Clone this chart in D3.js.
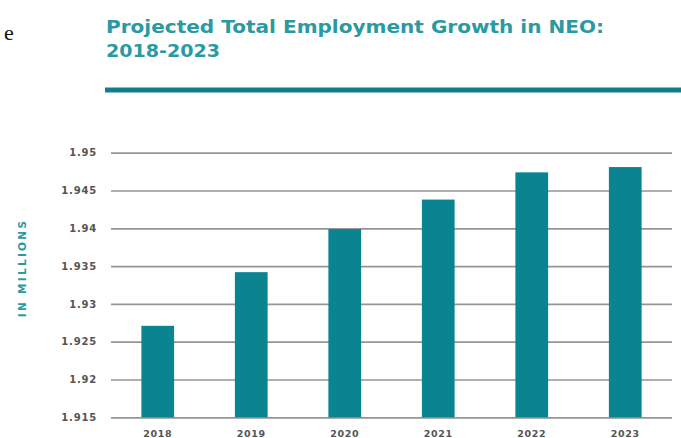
<!DOCTYPE html>
<html>
<head>
<meta charset="utf-8">
<script src="https://cdn.jsdelivr.net/npm/d3@7"></script>
<style>
  html, body { margin: 0; padding: 0; background: #fff; }
  svg { display: block; }
</style>
</head>
<body>
<svg id="chart" width="681" height="438"></svg>
<script>
const years = ["2018", "2019", "2020", "2021", "2022", "2023"];
const employment = [1.9271, 1.9342, 1.9399, 1.9438, 1.9474, 1.9481];
const yTicks = [1.915, 1.92, 1.925, 1.93, 1.935, 1.94, 1.945, 1.95];
const yTickLabels = ["1.915", "1.92", "1.925", "1.93", "1.935", "1.94", "1.945", "1.95"];
const titleLines = ["Projected Total Employment Growth in NEO:", "2018-2023"];
const yAxisTitle = "IN MILLIONS";

const svg = d3.select("#chart");
const teal = "#0b8491";
const titleTeal = "#2a9aa2";
const font = "'DejaVu Sans', sans-serif";

// stray letter from neighbouring column
svg.append("text").attr("x", 4).attr("y", 40)
  .attr("font-family", "'Liberation Serif', serif").attr("font-size", 22)
  .attr("fill", "#111").text("e");

// title
svg.append("text").attr("x", 106).attr("y", 33)
  .attr("font-family", font).attr("font-weight", "bold").attr("font-size", 18)
  .attr("fill", titleTeal).attr("textLength", 498).attr("lengthAdjust", "spacingAndGlyphs")
  .text(titleLines[0]);
svg.append("text").attr("x", 106).attr("y", 57)
  .attr("font-family", font).attr("font-weight", "bold").attr("font-size", 18)
  .attr("fill", titleTeal).attr("textLength", 114).attr("lengthAdjust", "spacingAndGlyphs")
  .text(titleLines[1]);

// rule
svg.append("rect").attr("x", 105).attr("y", 87.5).attr("width", 576).attr("height", 5)
  .attr("fill", "#0e7f89");

const x = d3.scaleBand().domain(years).range([111, 672])
  .paddingInner(0.65).paddingOuter(0.325);
const y = d3.scaleLinear().domain([1.915, 1.95]).range([417.3, 152.7]);

// gridlines + y labels via axis
const yAxis = d3.axisLeft(y).tickValues(yTicks)
  .tickFormat((d, i) => yTickLabels[i])
  .tickSize(-(672 - 111)).tickPadding(14);
const gy = svg.append("g").attr("transform", "translate(111,0)").call(yAxis);
gy.select(".domain").remove();
gy.selectAll(".tick line").attr("stroke", "#959595").attr("stroke-width", 1.7);
gy.selectAll(".tick text")
  .attr("font-family", font).attr("font-weight", "bold").attr("font-size", 10)
  .attr("letter-spacing", 0.8).attr("fill", "#555");

// bars
svg.append("g").selectAll("rect").data(years).join("rect")
  .attr("x", d => x(d))
  .attr("width", x.bandwidth())
  .attr("y", (d, i) => y(employment[i]))
  .attr("height", (d, i) => y(1.915) - y(employment[i]))
  .attr("fill", teal);

// x labels
const xAxis = d3.axisBottom(x).tickSize(0).tickPadding(12);
const gx = svg.append("g").attr("transform", "translate(0,418)").call(xAxis);
gx.select(".domain").remove();
gx.selectAll(".tick text")
  .attr("font-family", font).attr("font-weight", "bold").attr("font-size", 9.5)
  .attr("letter-spacing", 0.6).attr("fill", "#555");

// y axis title
svg.append("text")
  .attr("transform", "translate(26,268) rotate(-90)")
  .attr("text-anchor", "middle")
  .attr("font-family", font).attr("font-weight", "bold").attr("font-size", 10.5)
  .attr("letter-spacing", 2.3).attr("fill", titleTeal)
  .text(yAxisTitle);
</script>
</body>
</html>
